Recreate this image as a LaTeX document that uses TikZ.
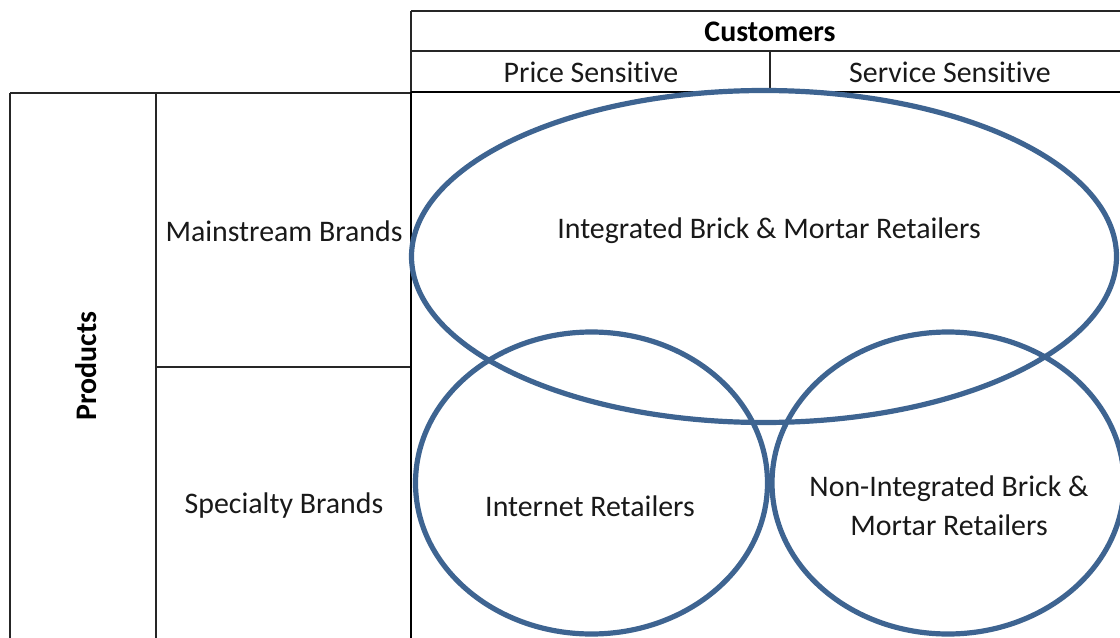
\documentclass[tikz,border=0pt]{standalone}
\usepackage{fontspec}
\setmainfont{Carlito}[Ligatures=NoCommon]
\usetikzlibrary{shapes.geometric}
\definecolor{ringblue}{HTML}{3E6491}
\begin{document}
\begin{tikzpicture}[x=0.75pt,y=-0.75pt,
  gridline/.style={line width=1.4pt, draw=black!85},
  heavyline/.style={line width=2.2pt, draw=black},
  ring/.style={ellipse, draw=ringblue, line width=3.9pt, inner sep=0pt},
  lbl/.style={font=\fontsize{22.4}{29.3}\selectfont, inner sep=0pt, align=center, text=black!90},
  hdr/.style={font=\fontsize{22.4}{29.3}\selectfont\bfseries, inner sep=0pt, text=black}]
\useasboundingbox (0,0) rectangle (1120,638);

% header table
\draw[gridline] (411,11) -- (1122,11);
\draw[gridline] (411,51) -- (1122,51);
\draw[gridline] (411,11) -- (411,92);
\draw[gridline] (770,51) -- (770,92);
% left table
\draw[gridline] (10,93) -- (411,93);
\draw[gridline] (10,93) -- (10,640);
\draw[gridline] (156,93) -- (156,640);
\draw[gridline] (156,367) -- (411,367);
% heavy borders of the grid area
\draw[heavyline] (411,92) -- (1122,92);
\draw[heavyline] (411,92) -- (411,640);

% labels
\node[hdr] (cust) at (770,32) {Customers};
\node[lbl] (price) at (591,72) {Price Sensitive};
\node[lbl] (service) at (950,72) {Service Sensitive};
\node[hdr, rotate=90] (prod) at (86,366) {Products};
\node[lbl] (main) at (284,231) {Mainstream Brands};
\node[lbl] (spec) at (284,506) {Specialty Brands};

% rings
\node[ring, minimum width=528.75pt, minimum height=249pt] (big) at (764,256.5) {};
\node[ring, minimum width=264pt, minimum height=226.5pt] (left) at (591.5,483) {};
\node[ring, minimum width=264pt, minimum height=226.5pt] (right) at (948,483) {};

\node[lbl] (integ) at (769,231) {Integrated Brick \& Mortar Retailers};
\node[lbl] (inet) at (590,506) {Internet Retailers};
\node[lbl] (noninteg) at (949,506) {Non-Integrated Brick \&\\Mortar Retailers};
\end{tikzpicture}
\end{document}
